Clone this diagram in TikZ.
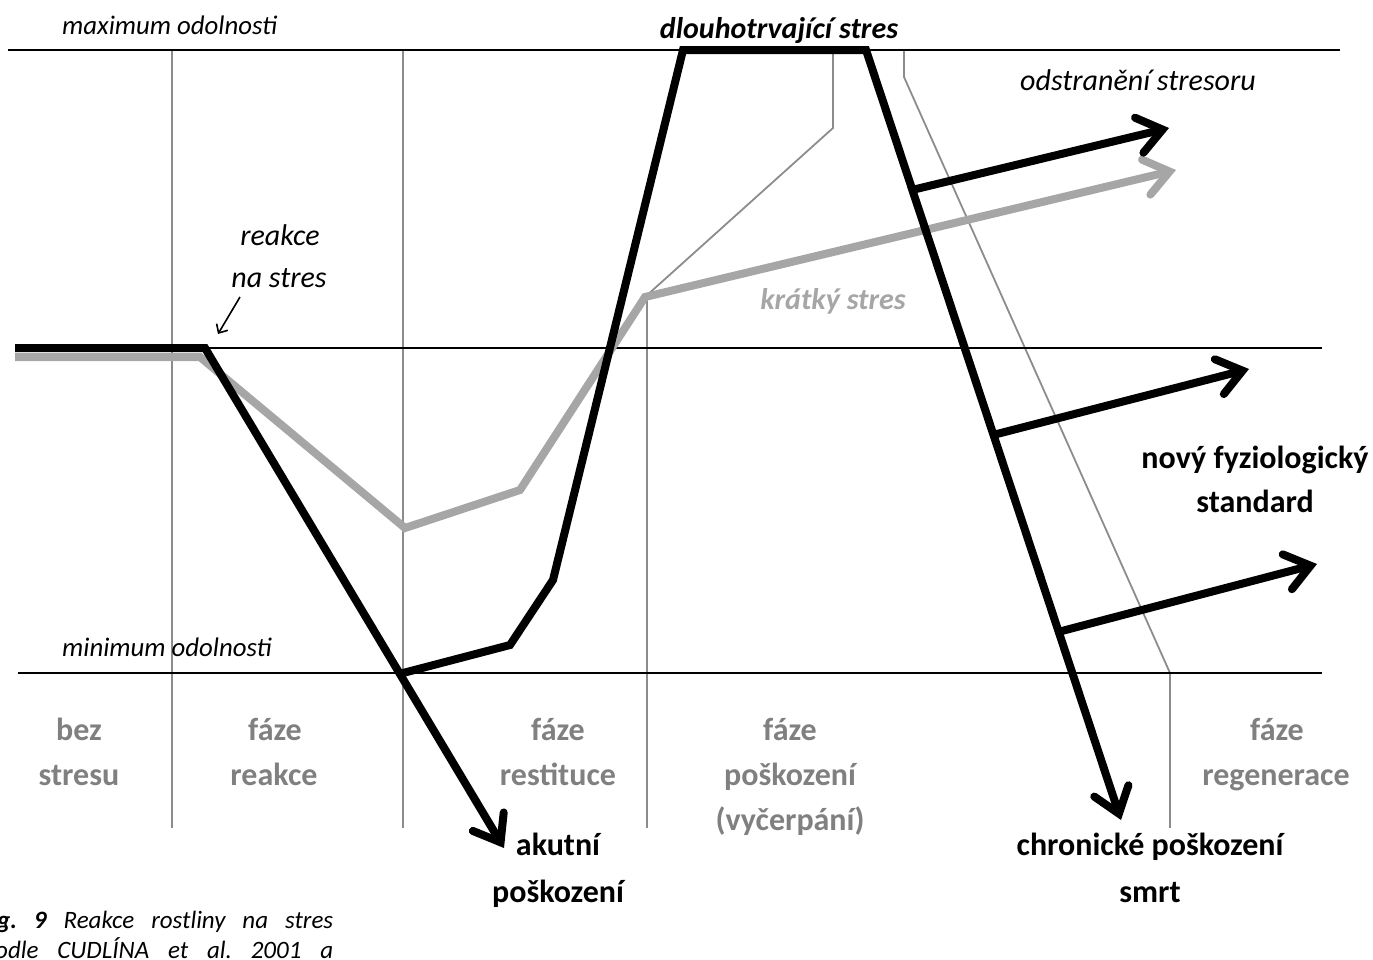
\documentclass[tikz,border=0pt]{standalone}
\usepackage{fontspec}
\setmainfont{Carlito}
\usetikzlibrary{arrows.meta}
\definecolor{gridgray}{HTML}{8C8C8C}
\definecolor{phasegray}{HTML}{808080}
\definecolor{curvegray}{HTML}{A6A6A6}
\begin{document}
\begin{tikzpicture}[x=1pt,y=-1pt,
  level/.style={line width=2pt,black},
  divider/.style={line width=1.8pt,gridgray},
  heavy/.style={line width=8pt,black,line join=miter},
  heavygray/.style={line width=8pt,curvegray,line join=miter},
  barb/.style={-{Straight Barb[length=24pt,width=36pt,line cap=round,line join=miter]}},
  note/.style={font=\fontsize{30}{36}\selectfont\itshape,inner sep=0pt,anchor=base},
  bound/.style={font=\fontsize{26.8}{32}\selectfont\itshape,inner sep=0pt,anchor=base west},
  phase/.style={font=\fontsize{32}{38}\selectfont\bfseries,text=phasegray,inner sep=0pt,anchor=base},
  outcome/.style={font=\fontsize{32}{38}\selectfont\bfseries,inner sep=0pt,anchor=base},
  caption/.style={font=\fontsize{25}{30}\selectfont\itshape,inner sep=0pt,anchor=base west},
]
\useasboundingbox (0,0) rectangle (1373,959);

% key points of the curves
\coordinate (b0) at (15,348);
\coordinate (b1) at (205,348);
\coordinate (b2) at (403,673);
\coordinate (b3) at (510,645);
\coordinate (b4) at (553,580);
\coordinate (b5) at (683,50);
\coordinate (b6) at (866,50);
\coordinate (acute) at (504,848);
\coordinate (chronic) at (1121,820);
\coordinate (r1) at (912,190);
\coordinate (r2) at (993,435);
\coordinate (r3) at (1058,632);
\coordinate (t1) at (1169,128);
\coordinate (t2) at (1249,369);
\coordinate (t3) at (1317,564);
\coordinate (g0) at (15,357);
\coordinate (g1) at (200,357);
\coordinate (g2) at (405,528);
\coordinate (g3) at (520,490);
\coordinate (g4) at (645,297);
\coordinate (g5) at (1176,170);

% phase dividers
\draw[divider] (172,50) -- (172,828);
\draw[divider] (403,50) -- (403,828);
\draw[divider] (647,297) -- (647,828);
\draw[divider] (1170,673) -- (1170,828);
\draw[divider] (833,50) -- (833,128) -- (g4);
\draw[divider] (904,50) -- (904,77) -- (1170,673);

% resistance levels
\draw[line width=2.6pt] (8,50) -- (1340,50);
\draw[level] (15,348) -- (1322,348);
\draw[level] (18,673) -- (1322,673);

% short stress (grey curve)
\draw[heavygray,barb] (g0) -- (g1) -- (g2) -- (g3) -- (g4) -- (g5);

% long-lasting stress (black curve)
\draw[heavy,barb] (b0) -- (b1) -- (acute);
\draw[heavy,barb] (b2) -- (b3) -- (b4) -- (b5) -- (b6) -- (chronic);
\draw[heavy,barb] (r1) -- (t1);
\draw[heavy,barb] (r2) -- (t2);
\draw[heavy,barb] (r3) -- (t3);

% labels
\node[bound] (maxlbl) at (62,34) {maximum odolnosti};
\node[bound] (minlbl) at (62,656) {minimum odolnosti};
\node[note,font=\fontsize{30}{36}\selectfont\bfseries\itshape] (long) at (779,38) {dlouhotrvající stres};
\node[note] (removal) at (1138,90) {odstranění stresoru};
\node[note] (react1) at (280,245) {reakce};
\node[note] (react2) at (279,287) {na stres};
\coordinate (pa) at (240,297);
\coordinate (pb) at (218,334);
\draw[line width=1.6pt,-{Straight Barb[length=7pt,width=13pt]}] (pa) -- (pb);
\node[note,font=\fontsize{30}{36}\selectfont\bfseries\itshape,text=curvegray] (short) at (833,309) {krátký stres};

\node[phase] (p1a) at (79,740) {bez};
\node[phase] (p1b) at (79,785) {stresu};
\node[phase] (p2a) at (275,740) {fáze};
\node[phase] (p2b) at (274,785) {reakce};
\node[phase] (p3a) at (558,740) {fáze};
\node[phase] (p3b) at (558,785) {restituce};
\node[phase] (p4a) at (790,740) {fáze};
\node[phase] (p4b) at (790,785) {poškození};
\node[phase] (p4c) at (790,830) {(vyčerpání)};
\node[phase] (p5a) at (1277,740) {fáze};
\node[phase] (p5b) at (1276,785) {regenerace};

\node[outcome] (std1) at (1255,468) {nový fyziologický};
\node[outcome] (std2) at (1255,512) {standard};
\node[outcome] (ac1) at (558,855) {akutní};
\node[outcome] (ac2) at (558,902) {poškození};
\node[outcome] (ch1) at (1150,855) {chronické poškození};
\node[outcome] (ch2) at (1150,902) {smrt};

\node[caption] (cap1) at (-3,928) {\makebox[336pt][s]{\textbf{g.\ 9} Reakce rostliny na stres}};
\node[caption] (cap2) at (-5,958) {\makebox[338pt][s]{odle CUDLÍNA et al.\ 2001 a}};
\end{tikzpicture}
\end{document}
